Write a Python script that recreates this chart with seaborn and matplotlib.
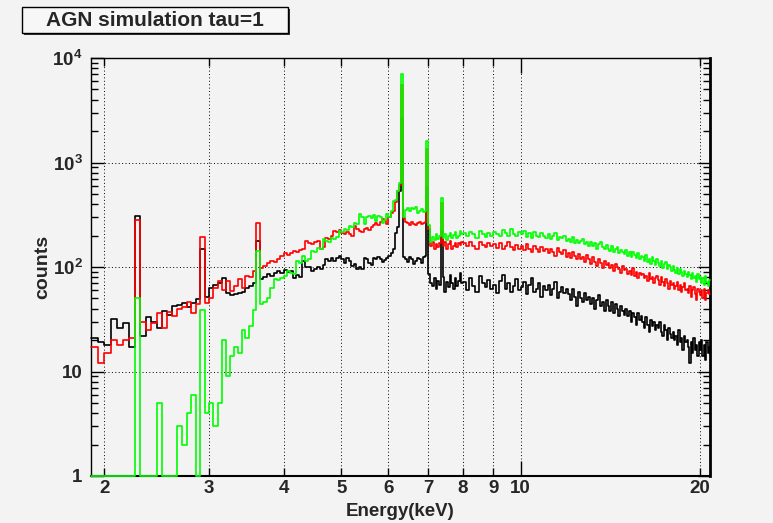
import numpy as np
import pandas as pd
import matplotlib
matplotlib.use("Agg")
import matplotlib.pyplot as plt
from matplotlib.patches import Rectangle
from matplotlib.ticker import LogLocator, NullFormatter
import seaborn as sns

# bin edges in keV: 0.05 keV bins up to 8 keV, 0.1 keV bins above
edges_lo = np.linspace(1.90, 8.00, 123)
edges_hi = np.linspace(8.00, 20.80, 129)
edges = np.concatenate([edges_lo[:-1], edges_hi])
centers = 0.5 * (edges[:-1] + edges[1:])

# counts per bin, 1.90 - 8.00 keV (0.05 keV bins)
black_lo = [
    21, 19, 18, 32, 26, 29, 17, 310, 22, 33,
    30, 26, 38, 35, 42, 43, 45, 41, 45, 49,
    150, 52, 63, 68, 70, 78, 56, 54, 55, 56,
    58, 63, 66, 71, 178, 77, 80, 86, 82, 88,
    92, 88, 94, 90, 92, 79, 84, 80, 114, 99,
    99, 92, 96, 99, 95, 104, 119, 114, 123, 114,
    123, 128, 120, 110, 123, 115, 102, 108, 95, 100,
    95, 123, 118, 110, 105, 123, 120, 125, 119, 112,
    116, 122, 128, 135, 150, 210, 240, 530, 2650, 125,
    118, 112, 125, 120, 108, 115, 122, 118, 110, 124,
    128, 580, 85, 70, 66, 78, 62, 74, 68, 220,
    80, 58, 72, 65, 84, 70, 62, 78, 66, 74, 88, 70]
red_lo = [
    17, 12, 15, 20, 18, 20, 21, 282, 30, 25,
    29, 36, 26, 37, 34, 40, 41, 46, 36, 44,
    195, 45, 51, 63, 73, 60, 73, 59, 66, 77,
    63, 82, 80, 92, 262, 98, 102, 110, 114, 112,
    120, 128, 137, 130, 136, 142, 138, 145, 149, 178,
    170, 166, 172, 178, 149, 155, 191, 185, 198, 221,
    215, 224, 213, 208, 215, 207, 200, 247, 230, 221,
    218, 232, 238, 226, 240, 250, 264, 255, 270, 288,
    280, 258, 300, 330, 345, 420, 530, 610, 5500, 295,
    270, 262, 255, 268, 258, 250, 262, 270, 256, 265,
    268, 1350, 230, 160, 172, 150, 165, 155, 168, 410,
    158, 172, 150, 165, 176, 148, 160, 170, 155, 168, 162, 172]
green_lo = [
    0, 0, 0, 0, 0, 0, 0, 50, 0, 0,
    0, 5, 0, 0, 0, 3, 2, 4, 6, 0,
    39, 4, 5, 3, 5, 20, 9, 14, 17, 15,
    25, 21, 27, 39, 142, 44, 46, 51, 63, 77,
    75, 78, 82, 92, 88, 86, 114, 110, 128, 114,
    118, 142, 138, 153, 150, 185, 178, 172, 191, 186,
    195, 221, 215, 232, 228, 247, 240, 266, 258, 322,
    300, 258, 300, 308, 296, 312, 275, 308, 300, 266,
    280, 322, 300, 340, 428, 440, 535, 640, 7000, 300,
    350, 370, 340, 365, 357, 372, 330, 345, 360, 338,
    345, 1600, 255, 172, 195, 180, 205, 185, 196, 455,
    188, 205, 182, 198, 210, 190, 202, 215, 188, 200, 220, 205]

# counts per bin, 8.0 - 20.8 keV (0.1 keV bins)
black_hi = [
    72, 60, 78, 66, 58, 82, 70, 64, 75, 62,
    68, 56, 74, 84, 62, 70, 58, 66, 76, 60,
    64, 72, 55, 68, 78, 58, 62, 70, 52, 66,
    60, 68, 54, 62, 72, 50, 58, 64, 56, 62,
    55, 48, 62, 52, 42, 58, 50, 46, 56, 48,
    52, 44, 50, 40, 48, 54, 42, 46, 38, 48,
    42, 38, 46, 36, 44, 40, 34, 42, 38, 35,
    40, 34, 38, 30, 36, 33, 28, 36, 31, 34,
    30, 26, 33, 28, 24, 31, 27, 30, 25, 28,
    26, 30, 24, 22, 28, 25, 20, 26, 23, 21,
    24, 20, 22, 18, 25, 19, 21, 16, 22, 19,
    20, 17, 12, 19, 15, 21, 16, 18, 14, 19,
    16, 20, 14, 18, 13, 19, 15, 17]
red_hi = [
    168, 158, 172, 160, 150, 175, 162, 155, 170, 158,
    165, 152, 170, 148, 160, 172, 155, 145, 162, 150,
    158, 145, 165, 150, 140, 160, 148, 138, 155, 142,
    150, 135, 148, 140, 128, 152, 138, 132, 145, 125,
    135, 122, 140, 128, 118, 132, 120, 126, 112, 130,
    118, 108, 125, 112, 102, 118, 110, 98, 115, 105,
    110, 98, 105, 92, 108, 100, 95, 88, 102, 94,
    96, 86, 92, 84, 98, 82, 90, 78, 88, 84,
    86, 78, 82, 74, 88, 76, 80, 70, 78, 82,
    75, 68, 80, 72, 66, 76, 70, 62, 74, 68,
    70, 62, 66, 72, 60, 68, 58, 64, 70, 60,
    62, 56, 66, 52, 60, 64, 55, 48, 62, 58,
    54, 60, 50, 62, 48, 56, 60, 55]
green_hi = [
    210, 198, 215, 205, 190, 220, 208, 195, 212, 200,
    218, 205, 196, 225, 210, 200, 232, 208, 198, 215,
    205, 222, 195, 210, 188, 215, 200, 192, 212, 198,
    190, 205, 185, 198, 210, 182, 195, 188, 200, 178,
    186, 175, 192, 170, 182, 168, 178, 186, 165, 172,
    160, 175, 158, 168, 150, 165, 172, 155, 148, 162,
    150, 142, 158, 138, 148, 155, 135, 145, 140, 132,
    145, 128, 138, 125, 140, 130, 122, 135, 118, 128,
    124, 115, 130, 112, 120, 108, 125, 114, 105, 118,
    110, 102, 115, 98, 108, 112, 95, 104, 100, 92,
    102, 94, 88, 98, 85, 95, 90, 82, 92, 86,
    80, 90, 84, 76, 88, 78, 82, 72, 85, 76,
    80, 70, 78, 68, 82, 72, 66, 75]

df = pd.DataFrame({
    "energy": centers,
    "black": black_lo + black_hi,
    "red": red_lo + red_hi,
    "green": green_lo + green_hi,
})
# empty bins are drawn on the axis floor, like ROOT does
for c in ["black", "red", "green"]:
    df[c + "_draw"] = df[c].clip(lower=1)

x_ticks = [2, 3, 4, 5, 6, 7, 8, 9, 20]
y_ticks = [1, 10, 100, 1000, 10000]
y_labels = ["1", "10", r"$\mathbf{10^{2}}$", r"$\mathbf{10^{3}}$", r"$\mathbf{10^{4}}$"]

sns.set_style("ticks")
plt.rcParams["font.family"] = ["Liberation Sans", "DejaVu Sans"]
plt.rcParams["font.weight"] = "bold"
plt.rcParams["mathtext.fontset"] = "custom"
plt.rcParams["mathtext.rm"] = "Liberation Sans:bold"
plt.rcParams["mathtext.bf"] = "Liberation Sans:bold"
plt.rcParams["mathtext.it"] = "Liberation Sans:bold"

bg = "#f3f3f3"
fig = plt.figure(figsize=(7.73, 5.23), dpi=100, facecolor=bg)
ax = fig.add_axes([91 / 773, 47 / 523, 619 / 773, 418 / 523], facecolor=bg)

for c, col in [("black", "black"), ("red", "#ff0000"), ("green", "#00ff00")]:
    sns.histplot(data=df, x="energy", weights=c + "_draw", bins=list(edges),
                 element="step", fill=False, color=col, linewidth=1.2,
                 ax=ax, clip_on=False, zorder=3)

ax.set_xscale("log")
ax.set_yscale("log")
ax.set_xlim(1.9, 20.8)
ax.set_ylim(1, 1e4)

ax.set_xticks([10], ["10"])
ax.set_xticks(x_ticks, [str(t) for t in x_ticks], minor=True)
ax.set_yticks(y_ticks, y_labels)
ax.yaxis.set_minor_locator(LogLocator(base=10, subs=np.arange(2, 10)))
ax.yaxis.set_minor_formatter(NullFormatter())

ax.tick_params(which="both", direction="in", top=True, right=True,
               labelsize=13.5, color="black", width=1)
ax.tick_params(axis="x", which="both", pad=3)
ax.tick_params(axis="y", which="both", pad=6)
ax.tick_params(axis="y", which="major", length=9)
ax.tick_params(axis="y", which="minor", length=5)
ax.tick_params(axis="x", which="major", length=11)
ax.tick_params(axis="x", which="minor", length=6)

dots = (0, (1, 2.5))
ax.grid(True, which="major", color="black", linestyle=dots, linewidth=0.7)
ax.grid(True, which="minor", axis="x", color="black", linestyle=dots, linewidth=0.7)

for s in ax.spines.values():
    s.set_color("black")
    s.set_linewidth(1.0)
ax.spines["right"].set_linewidth(2.0)
ax.spines["bottom"].set_linewidth(1.5)

ax.set_xlabel("Energy(keV)", fontsize=13.5, fontweight="bold")
ax.xaxis.set_label_coords(0.5, -0.064)
ax.set_ylabel("counts", fontsize=14, fontweight="bold")
ax.yaxis.set_label_coords(-0.064, 0.5)

# title box with a shadow
fig.patches.append(Rectangle((24 / 773, (523 - 35) / 523), 266 / 773, 26 / 523,
                             transform=fig.transFigure, facecolor="#333333",
                             edgecolor="none"))
fig.patches.append(Rectangle((22 / 773, (523 - 33) / 523), 266 / 773, 26 / 523,
                             transform=fig.transFigure, facecolor="#f7f7f7",
                             edgecolor="black", linewidth=1))
fig.text(155 / 773, (523 - 20) / 523, "AGN simulation tau=1", ha="center",
         va="center", fontsize=15, fontweight="bold")

fig.savefig("out.png", dpi=100, facecolor=bg)
